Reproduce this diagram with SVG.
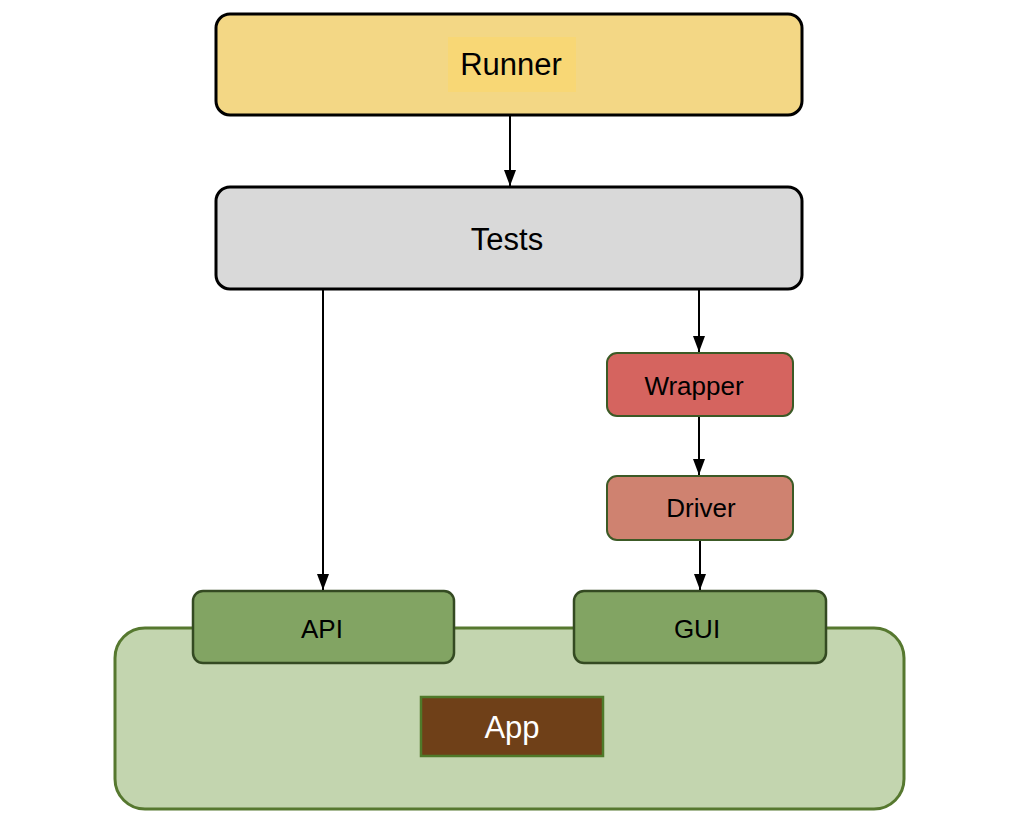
<svg xmlns="http://www.w3.org/2000/svg" width="1024" height="823" viewBox="0 0 1024 823">
<style>
text{font-family:"Liberation Sans",Arial,sans-serif;text-anchor:middle;dominant-baseline:central;fill:#000}
.big{font-size:31px}
.mid{font-size:26px}
.conn{stroke:#000;stroke-width:2;fill:none;marker-end:url(#ah)}
</style>
<defs>
<marker id="ah" viewBox="0 0 16 12" refX="16" refY="6" markerWidth="16" markerHeight="12" markerUnits="userSpaceOnUse" orient="auto">
<path d="M0,0 L16,6 L0,12 z" fill="#000"/>
</marker>
</defs>
<rect width="1024" height="823" fill="#fff"/>
<g id="app-container">
<rect x="115" y="628" width="789" height="181" rx="30" fill="#c3d5af" stroke="#56782f" stroke-width="3"/>
</g>
<g id="runner">
<rect x="216" y="14" width="586" height="101" rx="14" fill="#f3d785" stroke="#000" stroke-width="3"/>
<rect x="448" y="37" width="128" height="55" fill="#f8d775"/>
<text class="big" x="511" y="64">Runner</text>
</g>
<g id="tests">
<rect x="216" y="187" width="586" height="102" rx="14" fill="#d9d9d9" stroke="#000" stroke-width="3"/>
<text class="big" x="507" y="239">Tests</text>
</g>
<g id="wrapper">
<rect x="607" y="353" width="186" height="63" rx="10" fill="#d5645f" stroke="#3c5a26" stroke-width="2"/>
<text class="mid" x="694" y="386">Wrapper</text>
</g>
<g id="driver">
<rect x="607" y="476" width="186" height="64" rx="10" fill="#cf8270" stroke="#3c5a26" stroke-width="2"/>
<text class="mid" x="701" y="508">Driver</text>
</g>
<g id="api">
<rect x="193" y="591" width="261" height="72" rx="10" fill="#82a463" stroke="#344a22" stroke-width="2.5"/>
<text class="mid" x="322" y="629">API</text>
</g>
<g id="gui">
<rect x="574" y="591" width="252" height="72" rx="10" fill="#82a463" stroke="#344a22" stroke-width="2.5"/>
<text class="mid" x="697" y="629">GUI</text>
</g>
<g id="app">
<rect x="421" y="697" width="182" height="59" fill="#6f4018" stroke="#4f7a2a" stroke-width="2.5"/>
<text class="big" x="512" y="727" style="fill:#fff">App</text>
</g>
<g id="connectors">
<line class="conn" x1="510" y1="116" x2="510" y2="186"/>
<line class="conn" x1="323" y1="290" x2="323" y2="590"/>
<line class="conn" x1="699" y1="290" x2="699" y2="352"/>
<line class="conn" x1="699" y1="417" x2="699" y2="475"/>
<line class="conn" x1="700" y1="541" x2="700" y2="590"/>
</g>
</svg>
